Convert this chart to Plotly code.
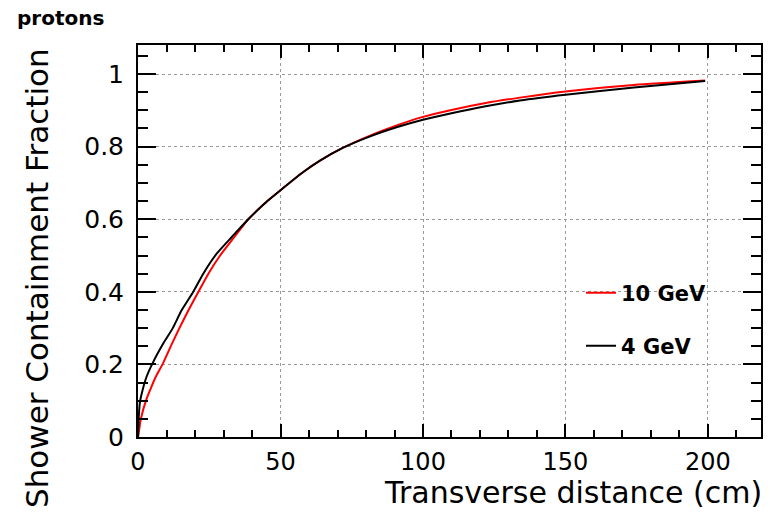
import plotly.graph_objects as go

# 4 GeV protons (black)
x_4gev = [0, 0.3, 0.7, 1.6, 3.0, 5.1, 8.9, 12.2, 15.3, 19.4, 22.9, 27.6, 32.9, 38.7,
          45.7, 50, 58, 64, 72, 81, 91, 100, 110, 122, 134, 150, 174, 199]
y_4gev = [0, 0.06, 0.097, 0.129, 0.166, 0.203, 0.258, 0.30, 0.349, 0.40, 0.45, 0.505,
          0.551, 0.60, 0.652, 0.68, 0.73, 0.762, 0.797, 0.827, 0.854, 0.874, 0.892, 0.911,
          0.927, 0.943, 0.963, 0.981]

# 10 GeV protons (red)
x_10gev = [0, 0.4, 1.0, 3.0, 4.8, 6.0, 8.9, 11.8, 14.4, 17.7, 21.2, 24.7, 28.8, 33.8,
           38.7, 45.7, 50, 58, 64, 72, 81, 91, 100, 110, 122, 134, 150, 174, 199]
y_10gev = [0, 0.02, 0.05, 0.105, 0.14, 0.162, 0.205, 0.255, 0.298, 0.349, 0.40, 0.45,
           0.50, 0.551, 0.60, 0.652, 0.68, 0.73, 0.762, 0.797, 0.829, 0.859, 0.882, 0.901,
           0.920, 0.935, 0.952, 0.970, 0.982]

series_names = ["10 GeV", "4 GeV"]
x_tick_vals = [0, 50, 100, 150, 200]
y_tick_vals = [0, 0.2, 0.4, 0.6, 0.8, 1.0]
y_tick_text = ["0", "0.2", "0.4", "0.6", "0.8", "1"]

FONT = "DejaVu Sans"

fig = go.Figure()
fig.add_trace(go.Scatter(x=x_10gev, y=y_10gev, mode="lines", name=series_names[0],
                         line=dict(color="#ff0000", width=2, shape="spline", smoothing=0.6),
                         legend="legend"))
fig.add_trace(go.Scatter(x=x_4gev, y=y_4gev, mode="lines", name=series_names[1],
                         line=dict(color="#000000", width=2, shape="spline", smoothing=0.6),
                         legend="legend2"))

L, R, T, B = 138, 9, 45, 75
W, H = 770, 512
pw, ph = W - L - R, H - T - B

def px_x(p):
    return (p - L) / pw

def px_y(p):
    return (H - B - p) / ph

axis_common = dict(
    showline=True, linecolor="black", linewidth=2, mirror="allticks",
    ticks="inside", tickcolor="black", tickwidth=1.5,
    showgrid=True, gridcolor="#9a9a9a", griddash="dot", gridwidth=1,
    zeroline=False, automargin=False,
)

fig.update_xaxes(range=[0, 218.6], tickvals=x_tick_vals, ticklen=13,
                 minor=dict(ticks="inside", ticklen=7, dtick=10, tick0=0,
                            tickcolor="black", showgrid=False),
                 tickfont=dict(family=FONT, size=24, color="black"),
                 ticklabelstandoff=2, **axis_common)
fig.update_yaxes(range=[0, 1.08], tickvals=y_tick_vals, ticktext=y_tick_text, ticklen=18,
                 minor=dict(ticks="inside", ticklen=10, dtick=0.05, tick0=0,
                            tickcolor="black", showgrid=False),
                 tickfont=dict(family=FONT, size=25, color="black"),
                 ticklabelstandoff=7, **axis_common)

legend_common = dict(
    xanchor="left", yanchor="middle", bgcolor="rgba(0,0,0,0)", borderwidth=0,
    font=dict(family=FONT, size=21, color="black", weight="bold"),
)

fig.update_layout(
    width=W, height=H,
    margin=dict(l=L, r=R, t=T, b=B, autoexpand=False),
    paper_bgcolor="white", plot_bgcolor="white",
    showlegend=True,
    legend=dict(x=px_x(581), y=px_y(293), **legend_common),
    legend2=dict(x=px_x(581), y=px_y(346), **legend_common),
    annotations=[
        dict(text="Transverse distance (cm)", xref="paper", yref="paper",
             x=px_x(763), y=px_y(492), xanchor="right", yanchor="middle", borderpad=0,
             showarrow=False, font=dict(family=FONT, size=30, color="black")),
        dict(text="Shower Containment Fraction", xref="paper", yref="paper",
             x=px_x(37), y=px_y(46), xanchor="center", yanchor="top", textangle=-90,
             showarrow=False, font=dict(family=FONT, size=31, color="black")),
        dict(text="<b>protons</b>", xref="paper", yref="paper",
             x=px_x(15), y=px_y(18), xanchor="left", yanchor="middle",
             showarrow=False, font=dict(family=FONT, size=20, color="black")),
    ],
)

fig.write_html("out.html", config={"displayModeBar": False},
               post_script="document.body.style.margin='0';document.body.style.padding='0';")
